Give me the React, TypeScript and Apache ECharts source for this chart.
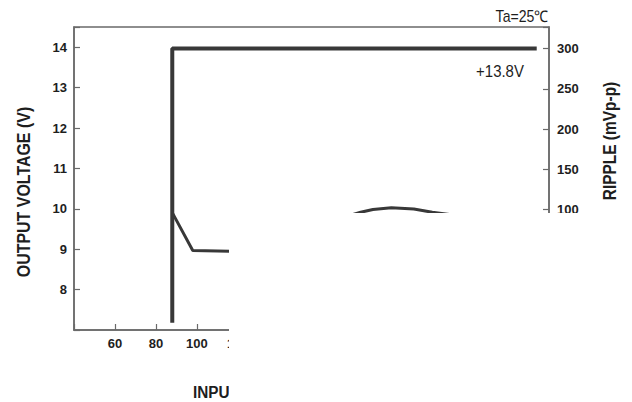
import React, { useEffect, useRef } from "react";
import * as echarts from "echarts";

// Output voltage curve (input VAC -> output V)
const voltageX = [88, 88, 266];
const voltageY = [7.18, 13.97, 13.97];

// Ripple curve (input VAC -> mVp-p)
const rippleX = [88, 98, 116, 180, 186, 195, 206, 215, 264];
const rippleY = [96, 49, 48, 96.5, 100, 102, 100.5, 96.5, 80];

const leftTicks = [8, 9, 10, 11, 12, 13, 14];
const rightTicks = [100, 150, 200, 250, 300];
const xTicks = [60, 80, 100, 120];

const FONT = "'Liberation Sans Narrow', 'Arial Narrow', 'Liberation Sans', Arial, sans-serif";
const TXT = "#1e1e1e";
const AXIS = "#6a6a6a";
const LINE = "#383838";

export default function App() {
  const ref = useRef<HTMLDivElement>(null);
  useEffect(() => {
    if (!ref.current) return;
    const chart = echarts.init(ref.current, undefined, { renderer: "svg" });
    const axisLine = { show: true, onZero: false, lineStyle: { color: AXIS, width: 1.5 } };
    const tick = { show: true, inside: true, length: 6, lineStyle: { color: AXIS, width: 1.2 } };
    const label = {
      color: TXT,
      fontFamily: FONT,
      fontSize: 13,
      fontWeight: "bold",
    };
    chart.setOption({
      animation: false,
      backgroundColor: "#ffffff",
      grid: {
        left: 74,
        right: 83,
        top: 27,
        bottom: 72,
        show: true,
        borderColor: AXIS,
        borderWidth: 1.5,
      },
      xAxis: {
        type: "value",
        min: 40,
        max: 272,
        interval: 20,
        splitLine: { show: false },
        axisLine,
        axisTick: tick,
        axisLabel: {
          ...label,
          margin: 7,
          formatter: (v: number) => (xTicks.includes(v) ? String(v) : ""),
        },
      },
      yAxis: [
        {
          type: "value",
          min: 7,
          max: 14.5,
          interval: 1,
          splitLine: { show: false },
          axisLine,
          axisTick: tick,
          axisLabel: {
            ...label,
            margin: 7,
            formatter: (v: number) => (leftTicks.includes(v) ? String(v) : ""),
          },
        },
        {
          type: "value",
          position: "right",
          min: -50,
          max: 327,
          interval: 50,
          splitLine: { show: false },
          axisLine,
          axisTick: tick,
          axisLabel: {
            ...label,
            margin: 8,
            formatter: (v: number) => (rightTicks.includes(v) ? String(v) : ""),
          },
        },
      ],
      series: [
        {
          type: "line",
          yAxisIndex: 0,
          data: voltageX.map((x, i) => [x, voltageY[i]]),
          showSymbol: false,
          lineStyle: { color: LINE, width: 4 },
          z: 3,
        },
        {
          type: "line",
          yAxisIndex: 1,
          data: rippleX.map((x, i) => [x, rippleY[i]]),
          showSymbol: false,
          lineStyle: { color: LINE, width: 3 },
          z: 2,
        },
      ],
      graphic: [
        {
          type: "text",
          x: 193,
          y: 392,
          z: 10,
          scaleX: 0.9,
          style: {
            text: "INPUT VOLTAGE (VAC)",
            fill: TXT,
            font: `bold 17px ${FONT}`,
            align: "left",
            verticalAlign: "middle",
          },
        },
        {
          type: "rect",
          z: 50,
          shape: { x: 229, y: 213, width: 403, height: 189 },
          style: { fill: "#ffffff" },
        },
        {
          type: "text",
          x: 24,
          y: 192,
          rotation: Math.PI / 2,
          scaleX: 0.84,
          z: 60,
          style: {
            text: "OUTPUT VOLTAGE (V)",
            fill: TXT,
            font: `bold 19px ${FONT}`,
            align: "center",
            verticalAlign: "middle",
          },
        },
        {
          type: "text",
          x: 610,
          y: 141,
          rotation: Math.PI / 2,
          scaleX: 0.86,
          z: 60,
          style: {
            text: "RIPPLE (mVp-p)",
            fill: TXT,
            font: `bold 18px ${FONT}`,
            align: "center",
            verticalAlign: "middle",
          },
        },
        {
          type: "text",
          x: 500,
          y: 71,
          z: 60,
          scaleX: 0.88,
          style: {
            text: "+13.8V",
            fill: TXT,
            font: `17px ${FONT}`,
            align: "center",
            verticalAlign: "middle",
          },
        },
        {
          type: "text",
          x: 522,
          y: 16,
          z: 60,
          scaleX: 0.88,
          style: {
            text: "Ta=25℃",
            fill: TXT,
            font: `16px ${FONT}`,
            align: "center",
            verticalAlign: "middle",
          },
        },
      ],
    });
    return () => chart.dispose();
  }, []);
  return (
    <div
      ref={ref}
      style={{ position: "fixed", left: 0, top: 0, width: 632, height: 402, background: "#fff" }}
    />
  );
}
